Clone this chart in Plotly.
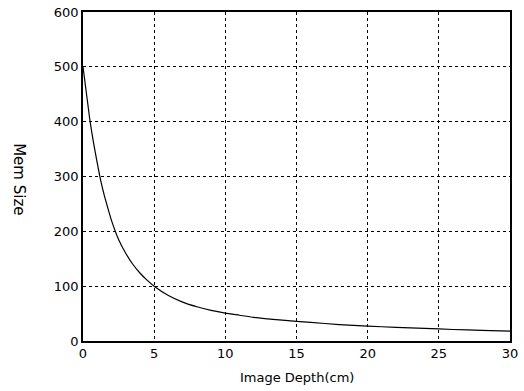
import plotly.graph_objects as go

depth_cm = [0, 0.25, 0.5, 0.75, 1, 1.25, 1.5, 1.75, 2, 2.5, 3, 3.5, 4, 4.5, 5, 6, 7, 8, 9, 10,
            11, 12, 14, 16, 18, 20, 22, 24, 26, 28, 30]
mem_size = [500, 450, 400, 360, 325, 292, 265, 242, 220, 185, 160, 140, 124, 111, 100, 83, 71,
            62.5, 56, 51, 47, 43, 38, 34, 30, 27, 25, 23, 21, 19.5, 18]
x_ticks = [0, 5, 10, 15, 20, 25, 30]
y_ticks = [0, 100, 200, 300, 400, 500, 600]

fig = go.Figure()
fig.add_trace(go.Scatter(x=depth_cm, y=mem_size, mode="lines",
                         line=dict(color="black", width=1.2, shape="spline", smoothing=0.6),
                         showlegend=False))

font = dict(family="'DejaVu Sans', sans-serif", size=13, color="black")
fig.update_layout(
    width=524, height=391,
    margin=dict(l=83, r=14, t=12, b=50, autoexpand=False),
    paper_bgcolor="white", plot_bgcolor="white",
    font=font,
    xaxis=dict(range=[0, 30], tickvals=x_ticks, showline=True, linecolor="black",
               linewidth=1.5, mirror=True, showgrid=True, gridcolor="black",
               griddash="dot", gridwidth=1, zeroline=False, ticks="", automargin=False),
    yaxis=dict(range=[0, 600], tickvals=y_ticks, showline=True, linecolor="black",
               linewidth=1.5, mirror=True, showgrid=True, gridcolor="black",
               griddash="dot", gridwidth=1, zeroline=False, ticks="", automargin=False),
)
fig.add_annotation(text="Image Depth(cm)", xref="paper", yref="paper", x=0.5, y=-0.112,
                   showarrow=False, font=dict(size=13),
                   xanchor="center", yanchor="middle")
fig.add_annotation(text="Mem Size", xref="paper", yref="paper", x=-0.15, y=0.492,
                   showarrow=False, textangle=90, font=dict(size=15),
                   xanchor="center", yanchor="middle")
fig.write_html("out.html")
